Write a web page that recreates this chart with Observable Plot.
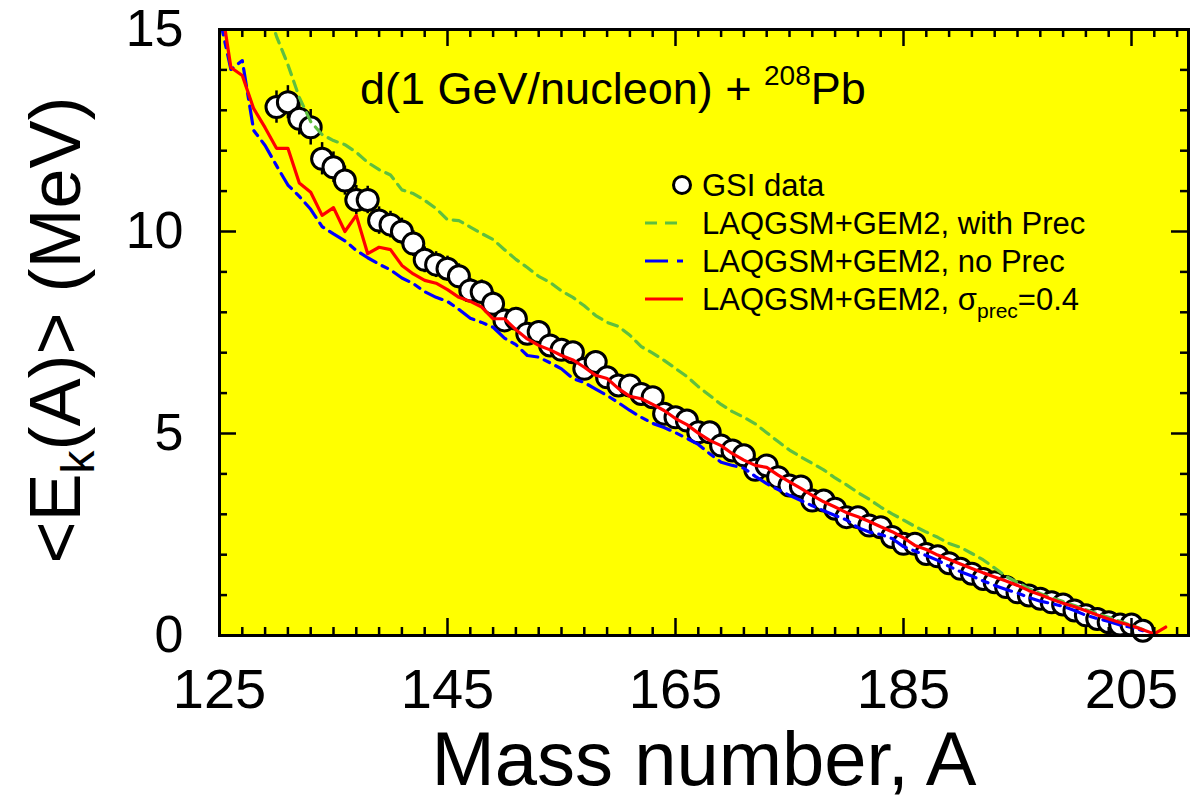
<!DOCTYPE html>
<html><head><meta charset="utf-8">
<script src="https://cdn.jsdelivr.net/npm/d3@7"></script>
<script src="https://cdn.jsdelivr.net/npm/@observablehq/plot@0.6"></script>
<style>body{margin:0;background:#fff;} svg{font-family:"Liberation Sans",Arial,sans-serif;} text{white-space:pre;}</style>
</head><body><div id="chart"></div>
<script>
// GSI data
const gsiA = [130,131,132,133,134,135,136,137,138,139,140,141,142,143,144,145,146,147,148,149,150,151,152,153,154,155,156,157,158,159,160,161,162,163,164,165,166,167,168,169,170,171,172,173,174,175,176,177,178,179,180,181,182,183,184,185,186,187,188,189,190,191,192,193,194,195,196,197,198,199,200,201,202,203,204,205,206];
const gsiE = [13.08,13.20,12.79,12.58,11.80,11.59,11.26,10.78,10.78,10.27,10.17,10.00,9.70,9.30,9.18,9.08,8.89,8.54,8.50,8.21,7.80,7.84,7.47,7.51,7.18,7.07,7.01,6.60,6.77,6.39,6.19,6.19,5.98,5.90,5.49,5.40,5.32,5.03,5.03,4.70,4.58,4.46,4.10,4.21,3.92,3.71,3.69,3.34,3.34,3.14,2.93,2.93,2.72,2.68,2.44,2.27,2.27,2.02,1.96,1.79,1.65,1.53,1.40,1.32,1.20,1.07,0.99,0.91,0.82,0.77,0.62,0.50,0.41,0.33,0.27,0.27,0.12];
const gsiErr = [0.40,0.41,0.40,0.44,0.40,0.38,0.36,0.36,0.34,0.34,0.33,0.33,0.32,0.32,0.32,0.31,0.31,0.30,0.30,0.30,0.28,0.28,0.27,0.27,0.26,0.26,0.25,0.25,0.24,0.24,0.23,0.23,0.22,0.22,0.21,0.21,0.20,0.20,0.19,0.19,0.18,0.18,0.17,0.17,0.16,0.16,0.15,0.15,0.14,0.14,0.13,0.13,0.12,0.12,0.11,0.11,0.10,0.10,0.10,0.09,0.09,0.09,0.08,0.08,0.08,0.07,0.07,0.07,0.06,0.06,0.06,0.05,0.05,0.05,0.05,0.05,0.05];

// LAQGSM+GEM2, sigma_prec = 0.4 (red)
const redA = [125,126,127,128,129,130,131,132,133,134,135,136,137,138,139,140,141,142,143,144,145,146,147,148,149,150,151,152,153,154,155,156,157,158,159,160,161,162,163,164,165,166,167,168,169,170,171,172,173,174,175,176,177,178,179,180,181,182,183,184,185,186,187,188,189,190,191,192,193,194,195,196,197,198,199,200,201,202,203,204,205,206,207,208];
const redE = [15.9,14.06,13.86,13.04,12.57,12.06,12.06,11.20,10.97,10.40,10.59,10.00,10.40,9.45,9.61,9.55,9.16,8.95,8.79,8.72,8.56,8.37,8.27,8.13,7.84,7.84,7.57,7.34,7.18,7.07,6.93,6.82,6.64,6.44,6.36,6.11,5.92,5.86,5.72,5.57,5.37,5.22,5.01,4.83,4.70,4.50,4.34,4.21,4.16,3.97,3.80,3.64,3.47,3.31,3.18,3.04,2.94,2.82,2.69,2.57,2.42,2.23,2.13,1.99,1.88,1.77,1.66,1.55,1.45,1.35,1.24,1.11,1.01,0.90,0.80,0.71,0.61,0.51,0.41,0.32,0.24,0.14,0.04,0.21];

// LAQGSM+GEM2, no Prec (blue)
const blueA = [125,126,127,128,129,130,131,132,133,134,135,136,137,138,139,140,141,142,143,144,145,146,147,148,149,150,151,152,153,154,155,156,157,158,159,160,161,162,163,164,165,166,167,168,169,170,171,172,173,174,175,176,177,178,179,180,181,182,183,184,185,186,187,188,189,190,191,192,193,194,195,196,197,198,199,200,201,202,203,204,205,206];
const blueE = [15.3,14.01,14.23,12.50,12.13,11.63,11.15,10.87,10.55,10.12,9.94,9.77,9.53,9.35,9.19,9.05,8.85,8.71,8.51,8.37,8.27,8.07,7.85,7.75,7.63,7.36,7.20,6.93,6.89,6.75,6.60,6.36,6.26,6.10,5.94,5.76,5.57,5.40,5.25,5.15,5.02,4.88,4.73,4.50,4.29,4.21,4.14,3.94,3.76,3.61,3.47,3.34,3.21,3.09,2.97,2.86,2.67,2.56,2.50,2.40,2.20,2.09,1.98,1.86,1.71,1.58,1.47,1.35,1.24,1.14,1.05,0.94,0.85,0.79,0.72,0.62,0.50,0.42,0.35,0.26,0.20,0.12];

// LAQGSM+GEM2, with Prec (green)
const greenA = [129,130,131,132,133,134,135,136,137,138,139,140,141,142,143,144,145,146,147,148,149,150,151,152,153,154,155,156,157,158,159,160,161,162,163,164,165,166,167,168,169,170,171,172,173,174,175,176,177,178,179,180,181,182,183,184,185,186,187,188,189,190,191,192,193,194,195,196,197,198,199,200,201,202,203,204,205,206];
const greenE = [15.7,14.83,14.13,13.32,12.72,12.40,12.25,12.15,11.96,11.71,11.53,11.40,11.03,10.94,10.77,10.57,10.29,10.27,10.11,9.95,9.80,9.55,9.31,9.11,8.89,8.74,8.53,8.37,8.16,7.92,7.75,7.65,7.43,7.15,6.99,6.81,6.61,6.41,6.16,5.94,5.72,5.54,5.40,5.24,5.02,4.80,4.59,4.42,4.26,4.10,3.90,3.73,3.54,3.37,3.18,3.01,2.86,2.70,2.56,2.43,2.28,2.18,2.03,1.87,1.67,1.46,1.31,1.16,1.04,0.93,0.84,0.74,0.64,0.54,0.45,0.35,0.25,0.15];

// ticks
const xMajor = [125,145,165,185,205];
const xMinor = [127,129,131,133,135,137,139,141,143,147,149,151,153,155,157,159,161,163,167,169,171,173,175,177,179,181,183,187,189,191,193,195,197,199,201,203,207,209];
const yMajor = [0,5,10,15];
const yMinor = [1,2,3,4,6,7,8,9,11,12,13,14];

const legendLabels = ["GSI data","LAQGSM+GEM2, with Prec","LAQGSM+GEM2, no Prec","LAQGSM+GEM2, "];

const zip = (A,E) => A.map((a,i)=>({A:a,E:E[i]}));
const gsi = gsiA.map((a,i)=>({A:a,E:gsiE[i],err:gsiErr[i]}));
const red = zip(redA,redE), blue = zip(blueA,blueE), green = zip(greenA,greenE);

const W=1195,H=801,mL=219,mR=7,mT=29,mB=166;
const xDom=[125,210], yDom=[0,15];
const pxPerX=(W-mL-mR)/(xDom[1]-xDom[0]), pxPerY=(H-mT-mB)/(yDom[1]-yDom[0]);
const majLen=17, minLen=8;
const YELLOW="#ffff00", GREEN="#5fbf3f", BLUE="#0000ff", RED="#ff0000";

const tickRules = [
  Plot.ruleX(xMajor,{x:d=>d,y1:0,y2:majLen/pxPerY,stroke:"black",strokeWidth:2.5}),
  Plot.ruleX(xMinor,{x:d=>d,y1:0,y2:minLen/pxPerY,stroke:"black",strokeWidth:2.5}),
  Plot.ruleX(xMajor,{x:d=>d,y1:15-majLen/pxPerY,y2:15,stroke:"black",strokeWidth:2.5}),
  Plot.ruleX(xMinor,{x:d=>d,y1:15-minLen/pxPerY,y2:15,stroke:"black",strokeWidth:2.5}),
  Plot.ruleY(yMajor,{y:d=>d,x1:125,x2:125+majLen/pxPerX,stroke:"black",strokeWidth:2.5}),
  Plot.ruleY(yMinor,{y:d=>d,x1:125,x2:125+minLen/pxPerX,stroke:"black",strokeWidth:2.5}),
  Plot.ruleY(yMajor,{y:d=>d,x1:210-majLen/pxPerX,x2:210,stroke:"black",strokeWidth:2.5}),
  Plot.ruleY(yMinor,{y:d=>d,x1:210-minLen/pxPerX,x2:210,stroke:"black",strokeWidth:2.5})
];

const svgNode = Plot.plot({
  width:W,height:H,marginLeft:mL,marginRight:mR,marginTop:mT,marginBottom:mB,
  x:{domain:xDom},y:{domain:yDom},
  style:{fontFamily:"Liberation Sans, Arial, sans-serif",background:"white",color:"black",overflow:"visible"},
  marks:[
    Plot.frame({fill:YELLOW}),
    Plot.ruleX(gsi,{x:"A",y1:d=>d.E-d.err,y2:d=>d.E+d.err,stroke:"black",strokeWidth:2.5}),
    Plot.dot(gsi,{x:"A",y:"E",r:10.5,fill:"white",stroke:"black",strokeWidth:3}),
    Plot.line(green,{x:"A",y:"E",stroke:GREEN,strokeWidth:3.2,strokeDasharray:"10,7",clip:true}),
    Plot.line(blue,{x:"A",y:"E",stroke:BLUE,strokeWidth:3.2,strokeDasharray:"18,7,6,7",clip:true}),
    Plot.line(red,{x:"A",y:"E",stroke:RED,strokeWidth:3.2,clip:true}),
    ...tickRules,
    Plot.axisX({ticks:xMajor,tickSize:0,tickPadding:33,fontSize:56,tickFormat:d=>String(d),label:null}),
    Plot.axisY({ticks:yMajor,tickSize:0,tickPadding:36,fontSize:52,tickFormat:d=>String(d),label:null}),
    Plot.frame({stroke:"black",strokeWidth:3})
  ]
});
document.getElementById("chart").appendChild(svgNode);
const svg = d3.select(svgNode);

// title
const t = svg.append("text").attr("x",360).attr("y",104).attr("font-size",45).attr("fill","black").attr("text-anchor","start");
t.append("tspan").text("d(1 GeV/nucleon) + ");
t.append("tspan").attr("font-size",28).attr("dy",-19).text("208");
t.append("tspan").attr("dy",19).text("Pb");

// axis labels
svg.append("text").attr("x",704).attr("y",785).attr("text-anchor","middle").attr("font-size",76).attr("fill","black").text("Mass number, A");
const yl = svg.append("text").attr("transform","translate(80,330) rotate(-90)").attr("text-anchor","middle").attr("font-size",72).attr("fill","black");
yl.append("tspan").text("<E");
yl.append("tspan").attr("font-size",46).attr("dy",14).text("k");
yl.append("tspan").attr("dy",-14).text("(A)> (MeV)");

// legend
const lg = svg.append("g").attr("font-size",31).attr("fill","black").attr("text-anchor","start");
const rows=[185,223,261,299], tx=702, l0=645, l1=683;
lg.append("circle").attr("cx",682).attr("cy",rows[0]).attr("r",8.5).attr("fill","white").attr("stroke","black").attr("stroke-width",3);
lg.append("line").attr("x1",l0).attr("x2",l1).attr("y1",rows[1]).attr("y2",rows[1]).attr("stroke",GREEN).attr("stroke-width",3).attr("stroke-dasharray","12,8");
lg.append("line").attr("x1",l0).attr("x2",l1).attr("y1",rows[2]).attr("y2",rows[2]).attr("stroke",BLUE).attr("stroke-width",3).attr("stroke-dasharray","23,9,6,9");
lg.append("line").attr("x1",l0).attr("x2",l1).attr("y1",rows[3]).attr("y2",rows[3]).attr("stroke",RED).attr("stroke-width",3);
legendLabels.forEach((s,i)=>{
  const tt = lg.append("text").attr("x",tx).attr("y",rows[i]).attr("dy","0.36em").attr("text-anchor","start");
  tt.append("tspan").text(s);
  if(i===3){
    tt.append("tspan").text("σ");
    tt.append("tspan").attr("font-size",21).attr("dy",8).text("prec");
    tt.append("tspan").attr("dy",-8).text("=0.4");
  }
});
</script>
</body></html>
